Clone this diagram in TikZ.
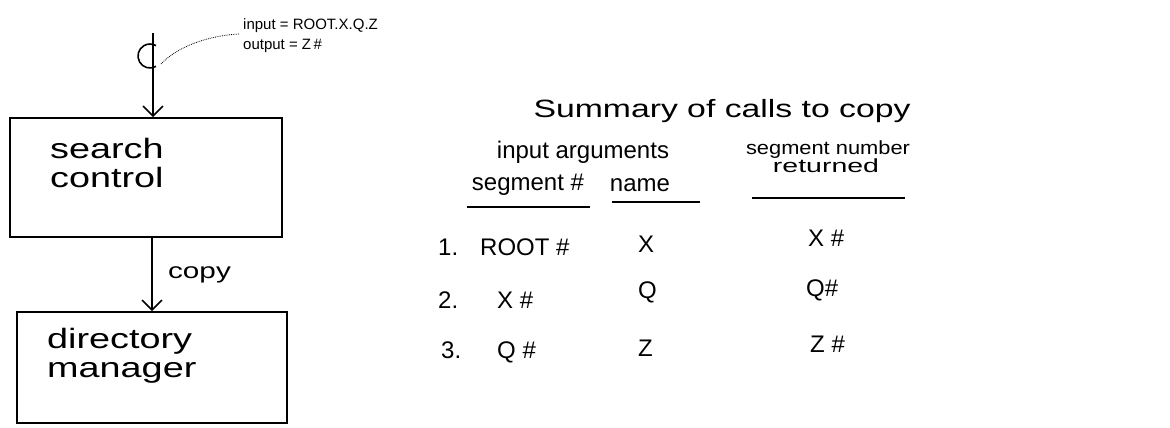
\documentclass[tikz,border=0pt]{standalone}
\usepackage{fontspec}
\setmainfont{Liberation Sans}
\newfontfamily\wideA[FakeStretch=1.35]{Liberation Sans}
\newfontfamily\wideB[FakeStretch=1.5]{Liberation Sans}
\newfontfamily\wideC[FakeStretch=1.15]{Liberation Sans}
\usetikzlibrary{arrows.meta,calc}
\begin{document}
\begin{tikzpicture}[x=1pt,y=-1pt,
  ln/.style={line width=1.6pt},
  arr/.style={ln,-{Straight Barb[length=10pt,width=20pt,line width=1.6pt]}},
  boxnode/.style={draw,line width=1.6pt,inner sep=0pt},
  txt/.style={anchor=base west,inner sep=0pt,font=\fontsize{24}{26}\selectfont},
  boxtxt/.style={anchor=base west,inner sep=0pt,font=\wideA\fontsize{28}{30}\selectfont},
  small/.style={anchor=base west,inner sep=0pt,font=\fontsize{15}{17}\selectfont},
  ul/.style={line width=1.3pt}]
\useasboundingbox (0,0) rectangle (1170,428);
% boxes
\node[boxnode,minimum width=272pt,minimum height=119pt] (sc) at (146,177.5) {};
\node[boxnode,minimum width=270pt,minimum height=111pt] (dm) at (152,367.5) {};
\node[boxtxt] (sct1) at (50,158) {search};
\node[boxtxt] (sct2) at (50,187) {control};
\node[boxtxt] (dmt1) at (47,348) {directory};
\node[boxtxt] (dmt2) at (47,377) {manager};
% top input arrow
\coordinate (top) at (153,33);
\draw[arr] (top) -- (top |- sc.north);
\draw[ln] (156,66.4) arc[start angle=60,end angle=300,radius=12];
% dotted leader
\node[small] (inp) at (243,30) {input = ROOT.X.Q.Z};
\node[small] (outp) at (243,49) {output = Z\,\#};
\coordinate (cend) at (161,64);
\draw[densely dotted,line width=0.8pt] (cend) .. controls (176,48) and (205,36) .. ($(inp.base west)+(-4,4)$);
% copy arrow
\draw[arr] (dm.north |- sc.south) -- (dm.north) node[midway,right=12pt,font=\wideA\fontsize{22}{24}\selectfont] (cp) {copy};
% summary table
\node[txt,anchor=base,font=\wideA\fontsize{25}{27}\selectfont] (sum) at (722,117) {Summary of calls to copy};
\node[txt,anchor=base] (ia) at (583,158) {input arguments};
\node[txt,anchor=base] (sg) at (528,190) {segment \#};
\node[txt,anchor=base] (nm) at (640,191) {name};
\node[txt,anchor=base,font=\wideC\fontsize{19}{20}\selectfont] (sn) at (828,154) {segment number};
\node[txt,anchor=base,font=\wideB\fontsize{19}{20}\selectfont] (rt) at (826,172) {returned};
\draw[ul] (467,207) -- (590,207);
\draw[ul] (612,202) -- (700,202);
\draw[ul] (752,198) -- (905,198);
% rows
\node[txt] (r1n) at (438,255) {1.};
\node[txt] (r1a) at (480,255) {ROOT \#};
\node[txt] (r1b) at (638,252) {X};
\node[txt] (r1c) at (808,246) {X \#};
\node[txt] (r2n) at (438,308) {2.};
\node[txt] (r2a) at (497,308) {X \#};
\node[txt] (r2b) at (638,298) {Q};
\node[txt] (r2c) at (806,296) {Q\#};
\node[txt] (r3n) at (441,358) {3.};
\node[txt] (r3a) at (497,358) {Q \#};
\node[txt] (r3b) at (638,356) {Z};
\node[txt] (r3c) at (810,352) {Z \#};
\end{tikzpicture}
\end{document}
